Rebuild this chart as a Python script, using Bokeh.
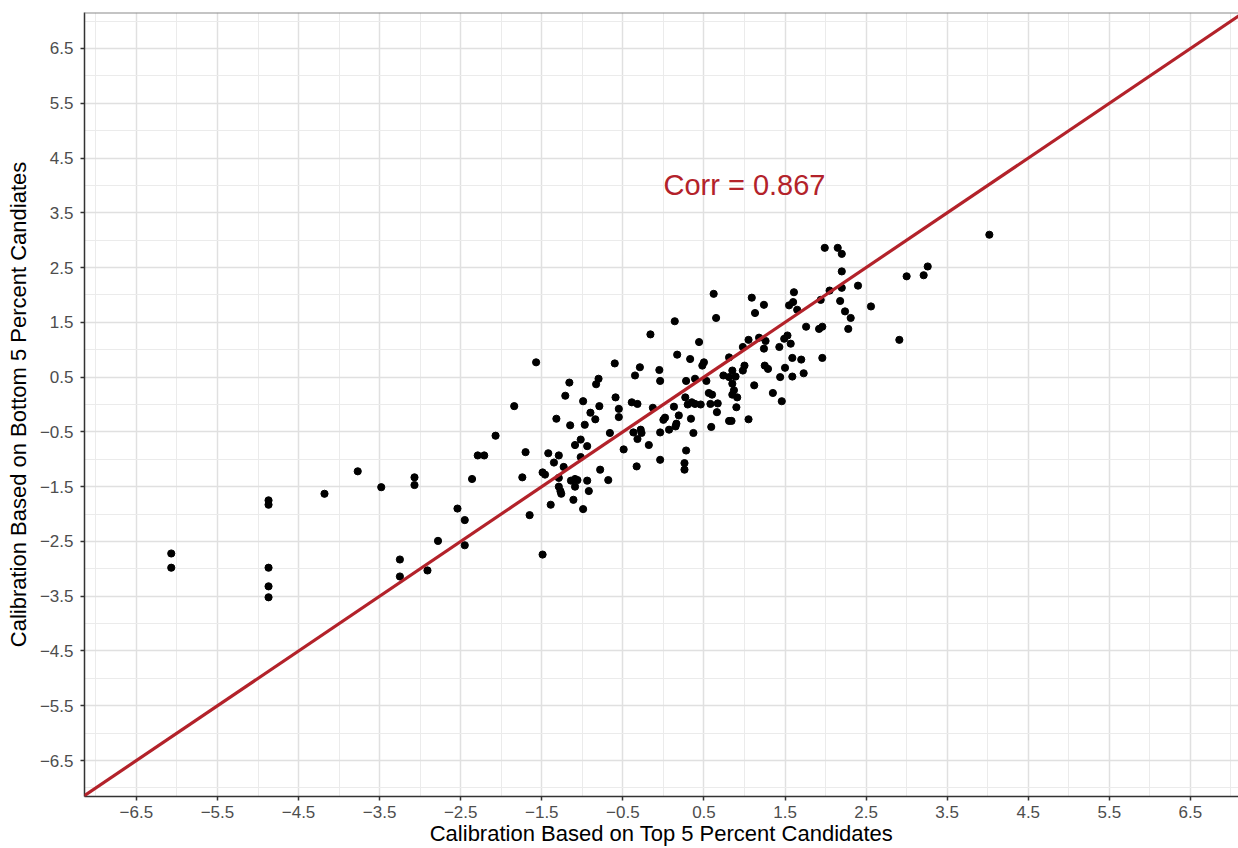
from bokeh.plotting import figure
from bokeh.models import FixedTicker, Slope, Span, Range1d, ColumnDataSource
from bokeh.embed import file_html
from bokeh.resources import INLINE
from bokeh.core.properties import value

# ---- data ----
x_top = [
    -6.07, -6.07, -4.87, -4.87, -4.87, -4.87, -4.87, -4.18, -3.77, -3.48,
    -3.07, -3.07, -3.25, -3.25, -2.91, -2.78, -2.54, -2.45, -2.45, -2.36,
    -2.29, -2.21, -2.07, -1.84, -1.70, -1.74, -1.65, -1.49, -1.49, -1.46,
    -1.42, -1.35, -1.29, -1.23, -1.29, -1.29, -1.27, -1.26, -1.39, -1.14,
    -1.09, -1.09, -1.06, -1.11, -0.99, -0.94, -0.92, -1.15, -1.09, -1.02,
    -0.94, -1.02, -0.97, -0.99, -0.90, -0.84, -0.79, -0.78, -0.68, -0.66,
    -0.55, -0.55, -0.49, -0.39, -0.32, -0.37, -0.32, -0.28, -0.27, -0.33,
    -0.18, -0.13, -0.04, -0.04, 0.00, 0.02, 0.07, 0.13, 0.15, 0.16,
    0.19, 0.28, 0.26, 0.26, 0.34, 0.37, 0.30, 0.35, 0.46, 0.59,
    0.58, 0.67, 0.66, 0.81, 0.84, 0.90, 1.05, -0.80, -0.60, -0.59,
    -0.35, -0.29, -0.16, -0.05, -0.04, 0.17, 0.14, 0.28, 0.27, 0.39,
    0.33, 0.44, 0.48, 0.50, 0.39, 0.53, 0.56, 0.60, 0.62, 0.65,
    0.74, 0.81, 0.81, 0.85, 0.89, 0.85, 0.87, 0.91, 0.85, 0.98,
    1.00, 0.98, 1.05, 1.09, 1.13, 1.24, 1.12, 1.18, 1.26, 1.24,
    1.25, 1.29, 1.35, 1.46, 1.43, 1.49, 1.53, 1.57, 1.50, 1.44,
    1.59, 1.59, 1.70, 1.73, 1.55, 1.61, 1.60, 1.65, 1.76, 1.92,
    1.96, 1.96, 1.94, 2.05, 2.18, 2.20, 2.20, 2.20, 2.24, 2.31,
    2.28, 2.40, 2.56, 2.91, 1.99, 2.15, 3.00, 3.21, 3.26, 4.02,
    -1.57, -1.16, -1.32, -1.21, -0.83,
]
y_bottom = [
    -2.72, -2.98, -1.75, -1.83, -2.98, -3.32, -3.52, -1.63, -1.22, -1.51,
    -1.33, -1.47, -2.83, -3.14, -3.03, -2.49, -1.90, -2.11, -2.57, -1.36,
    -0.93, -0.93, -0.57, -0.03, -0.87, -1.33, -2.02, -2.74, -1.24, -1.28,
    -0.89, -1.06, -0.93, -1.14, -1.34, -1.50, -1.58, -1.63, -1.83, -1.39,
    -1.36, -1.50, -1.38, -1.74, -1.91, -1.39, -1.58, -0.38, -0.74, -0.64,
    -0.76, -0.96, -0.37, 0.06, -0.15, -0.27, -0.03, -1.19, -1.38, -0.52,
    -0.08, -0.23, -0.82, 0.04, 0.01, -0.51, -0.63, -0.46, -0.52, -1.13,
    -0.74, -0.06, -1.01, -0.51, -0.28, -0.24, -0.46, -0.04, -0.40, -0.35,
    -0.20, -0.84, -1.07, -1.19, -0.26, -0.52, 0.00, 0.04, 0.00, -0.41,
    0.01, 0.02, -0.14, -0.30, -0.30, -0.05, -0.27, 0.47, 0.75, 0.13,
    0.53, 0.68, 1.28, 0.63, 0.43, 0.91, 1.52, 0.43, 0.13, 0.01,
    0.83, 1.14, 0.71, 0.77, 0.47, 0.43, 0.21, 0.18, 2.02, 1.58,
    0.53, 0.50, 0.86, 0.62, 0.51, 0.38, 0.26, 0.13, 0.18, 1.05,
    0.71, 0.62, 1.18, 1.95, 1.67, 1.82, 0.35, 1.22, 1.16, 1.02,
    0.71, 0.65, 0.21, 0.06, 1.05, 1.20, 1.26, 1.11, 0.67, 0.50,
    0.85, 0.51, 0.82, 0.57, 1.81, 2.05, 1.87, 1.73, 1.42, 1.38,
    1.42, 0.85, 1.91, 2.08, 1.89, 2.13, 2.43, 2.75, 1.70, 1.58,
    1.38, 2.17, 1.79, 1.18, 2.86, 2.86, 2.34, 2.36, 2.52, 3.10,
    0.77, 0.40, -0.26, 0.16, 0.37,
]
tick_values = [-6.5, -5.5, -4.5, -3.5, -2.5, -1.5, -0.5, 0.5, 1.5, 2.5, 3.5, 4.5, 5.5, 6.5]
tick_labels = ["\u22126.5", "\u22125.5", "\u22124.5", "\u22123.5", "\u22122.5", "\u22121.5", "\u22120.5",
               "0.5", "1.5", "2.5", "3.5", "4.5", "5.5", "6.5"]
minor_values = [-7, -6, -5, -4, -3, -2, -1, 0, 1, 2, 3, 4, 5, 6, 7]
corr_text = ["Corr = 0.867"]
corr_x = [1.0]
corr_y = [4.0]
x_title = "Calibration Based on Top 5 Percent Candidates"
y_title = "Calibration Based on Bottom 5 Percent Candiates"

FONT = "Liberation Sans"
RED = "#b3222a"

p = figure(width=1238, height=848,
           x_range=Range1d(-7.14, 7.093), y_range=Range1d(-7.157, 7.157),
           output_backend="svg", toolbar_location=None,
           min_border_left=84, min_border_right=0, min_border_top=12, min_border_bottom=52)
p.outline_line_color = None
p.background_fill_color = "white"
p.border_fill_color = "white"

ticker = FixedTicker(ticks=tick_values, minor_ticks=minor_values)
overrides = {v: l for v, l in zip(tick_values, tick_labels)}
for ax in (p.xaxis[0], p.yaxis[0]):
    ax.ticker = ticker
    ax.major_label_overrides = overrides
    ax.major_tick_out = 4
    ax.major_tick_in = 0
    ax.minor_tick_out = 0
    ax.minor_tick_in = 0
    ax.minor_tick_line_color = None
    ax.axis_line_color = "#333333"
    ax.axis_line_width = 1.5
    ax.major_tick_line_color = "#333333"
    ax.major_tick_line_width = 1.5
    ax.major_label_text_color = "#4d4d4d"
    ax.major_label_text_font = FONT
    ax.major_label_text_font_size = "17px"
    ax.axis_label_text_font = FONT
    ax.axis_label_text_font_style = "normal"
    ax.axis_label_text_color = "black"
    ax.axis_label_text_font_size = "22px"

p.xaxis.axis_label = x_title
p.yaxis.axis_label = y_title
p.xaxis.major_label_standoff = 5
p.xaxis.axis_label_standoff = 0
p.yaxis.major_label_standoff = 7
p.yaxis.axis_label_standoff = 6

for g in (p.xgrid[0], p.ygrid[0]):
    g.ticker = ticker
    g.grid_line_color = "#e0e0e0"
    g.grid_line_width = 1.5
    g.minor_grid_line_color = "#ebebeb"
    g.minor_grid_line_width = 1

p.add_layout(Span(location=7.157, dimension="width", line_color="#8a8a8a", line_width=2))

src = ColumnDataSource(dict(x=x_top, y=y_bottom))
p.scatter("x", "y", source=src, size=7.2, color="black")

p.add_layout(Slope(gradient=1, y_intercept=0, line_color=RED, line_width=3.2))

tsrc = ColumnDataSource(dict(x=corr_x, y=corr_y, t=corr_text))
p.text("x", "y", text="t", source=tsrc, text_color=RED, text_font=value(FONT),
       text_font_size="29px", text_align="center", text_baseline="middle")

open("out.html", "w").write(file_html(p, INLINE))
